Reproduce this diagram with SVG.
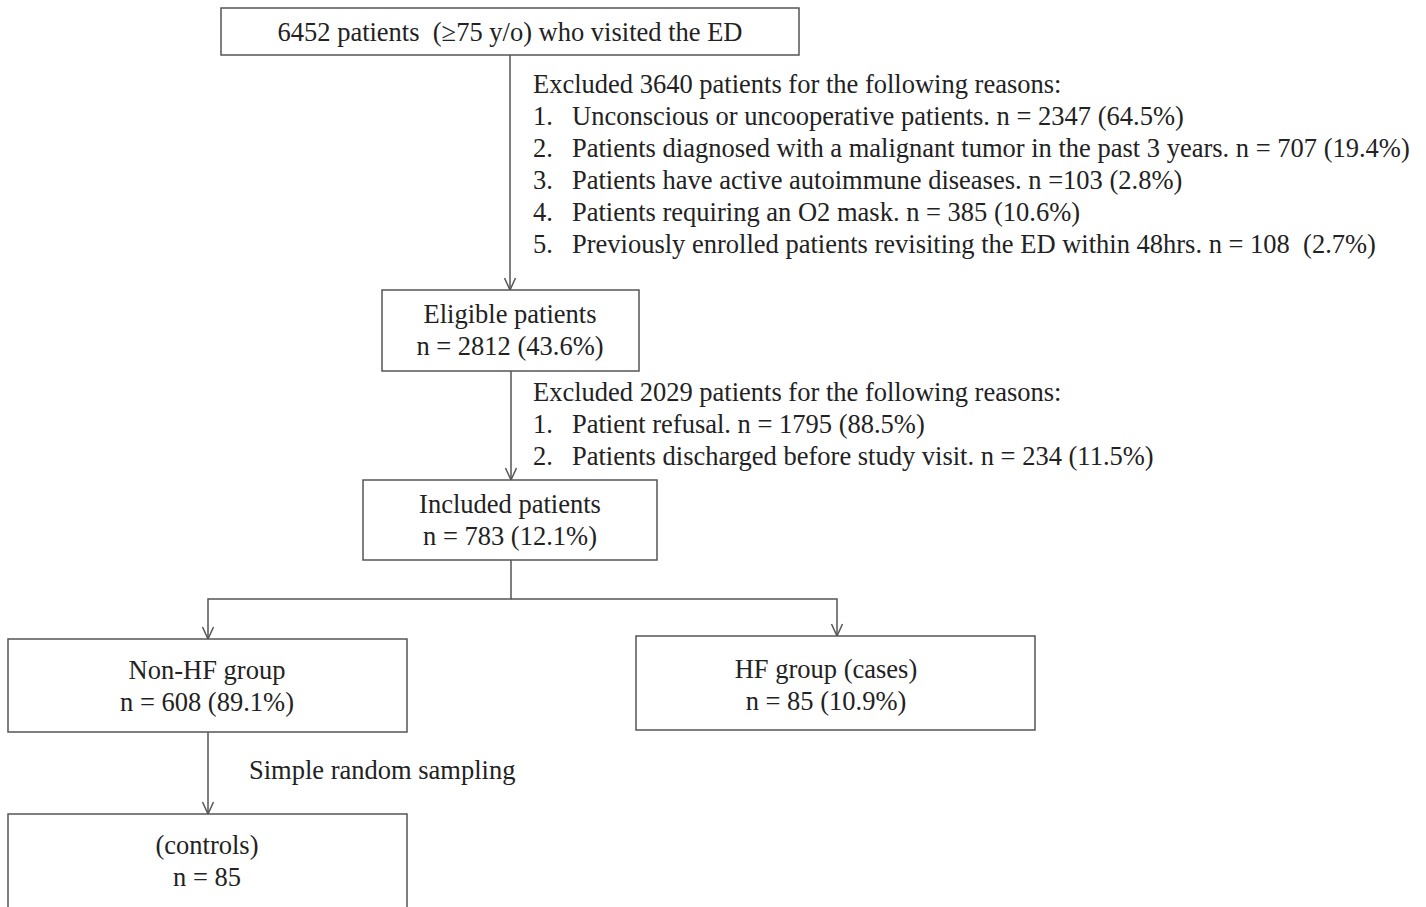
<svg xmlns="http://www.w3.org/2000/svg" width="1426" height="907" viewBox="0 0 1426 907">
<defs>
<style>
text{font-family:"Liberation Serif","Times New Roman",serif;font-size:26.5px;fill:#222;white-space:pre}
.c{text-anchor:middle}
.box{fill:#fff;stroke:#555;stroke-width:1.5}
.ln{fill:none;stroke:#555;stroke-width:1.5}
</style>
<marker id="arr" markerWidth="16" markerHeight="14" refX="14" refY="7" orient="auto" markerUnits="userSpaceOnUse" viewBox="0 0 16 14">
<path d="M2,1.5 L14,7 L2,12.5" fill="none" stroke="#555" stroke-width="1.5"/>
</marker>
</defs>
<rect width="1426" height="907" fill="#fff"/>
<g id="connectors">
<path class="ln" d="M510,55 V290" marker-end="url(#arr)"/>
<path class="ln" d="M511,371 V480" marker-end="url(#arr)"/>
<path class="ln" d="M511,560 V599 H208 V639" marker-end="url(#arr)"/>
<path class="ln" d="M511,599 H837 V636" marker-end="url(#arr)"/>
<path class="ln" d="M208,732 V814" marker-end="url(#arr)"/>
</g>
<g id="n-start">
<rect class="box" x="221" y="8" width="578" height="47"/>
<text class="c" x="510" y="41" xml:space="preserve">6452 patients  (≥75 y/o) who visited the ED</text>
</g>
<g id="excl1">
<text x="533" y="93">Excluded 3640 patients for the following reasons:</text>
<text x="533" y="125">1.</text><text x="572" y="125">Unconscious or uncooperative patients. n = 2347 (64.5%)</text>
<text x="533" y="157">2.</text><text x="572" y="157">Patients diagnosed with a malignant tumor in the past 3 years. n = 707 (19.4%)</text>
<text x="533" y="189">3.</text><text x="572" y="189">Patients have active autoimmune diseases. n =103 (2.8%)</text>
<text x="533" y="221">4.</text><text x="572" y="221">Patients requiring an O2 mask. n = 385 (10.6%)</text>
<text x="533" y="253">5.</text><text x="572" y="253" xml:space="preserve">Previously enrolled patients revisiting the ED within 48hrs. n = 108  (2.7%)</text>
</g>
<g id="n-eligible">
<rect class="box" x="382" y="290" width="257" height="81"/>
<text class="c" x="510" y="323">Eligible patients</text>
<text class="c" x="510" y="355">n = 2812 (43.6%)</text>
</g>
<g id="excl2">
<text x="533" y="401">Excluded 2029 patients for the following reasons:</text>
<text x="533" y="433">1.</text><text x="572" y="433">Patient refusal. n = 1795 (88.5%)</text>
<text x="533" y="465">2.</text><text x="572" y="465">Patients discharged before study visit. n = 234 (11.5%)</text>
</g>
<g id="n-included">
<rect class="box" x="363" y="480" width="294" height="80"/>
<text class="c" x="510" y="513">Included patients</text>
<text class="c" x="510" y="545">n = 783 (12.1%)</text>
</g>
<g id="n-nonhf">
<rect class="box" x="8" y="639" width="399" height="93"/>
<text class="c" x="207" y="679">Non-HF group</text>
<text class="c" x="207" y="711">n = 608 (89.1%)</text>
</g>
<g id="n-hf">
<rect class="box" x="636" y="636" width="399" height="94"/>
<text class="c" x="826" y="678">HF group (cases)</text>
<text class="c" x="826" y="710">n = 85 (10.9%)</text>
</g>
<g id="lbl-sampling">
<text x="249" y="779">Simple random sampling</text>
</g>
<g id="n-controls">
<rect class="box" x="8" y="814" width="399" height="100"/>
<text class="c" x="207" y="854">(controls)</text>
<text class="c" x="207" y="886">n = 85</text>
</g>
</svg>
